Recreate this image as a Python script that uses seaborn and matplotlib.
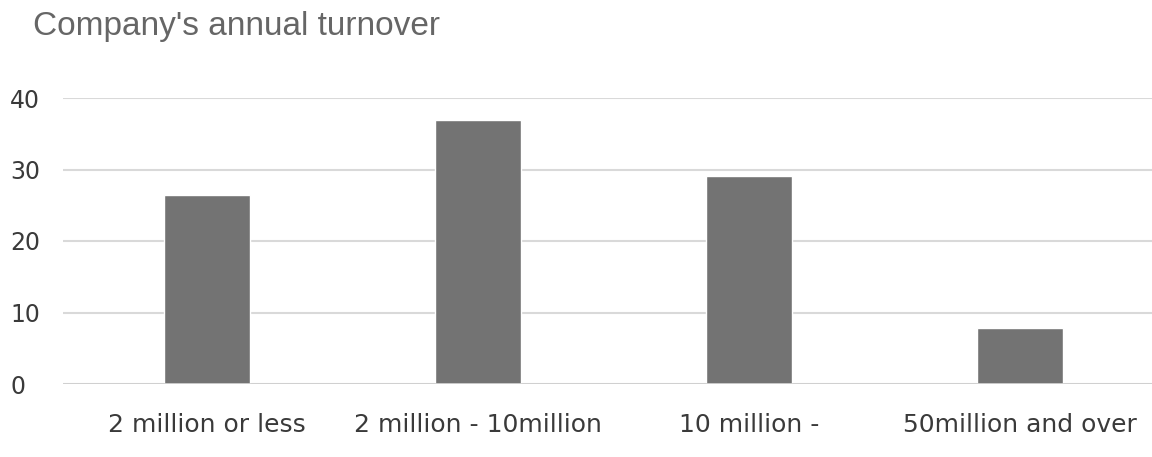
import matplotlib
matplotlib.use("Agg")
import matplotlib.pyplot as plt
import seaborn as sns
import pandas as pd

# Survey results: share of companies by annual turnover
categories = ["2 million or less", "2 million - 10million", "10 million -", "50million and over"]
values = [26.4, 36.9, 29.1, 7.8]
y_ticks = [0, 10, 20, 30, 40]

df = pd.DataFrame({"turnover": categories, "share": values})

sns.set_theme(style="white")
plt.rcParams["font.family"] = ["DejaVu Sans"]

fig = plt.figure(figsize=(11.52, 4.57), dpi=100)
ax = fig.add_axes([63 / 1152, 1 - 384 / 457, 1 - 63 / 1152, (384 - 98) / 457])

sns.barplot(data=df, x="turnover", y="share", color="#737373", width=0.32,
            saturation=1, ax=ax, zorder=3)

ax.set_xlim(-0.531, 3.487)
ax.set_ylim(0, 40)
ax.set_yticks(y_ticks)
ax.yaxis.grid(True, color="#d9d9d9", linewidth=1.5, zorder=0)
ax.axhline(0, color="#d0d0d0", linewidth=2, zorder=4)
for s in ax.spines.values():
    s.set_visible(False)

ax.set_xlabel("")
ax.set_ylabel("")
ax.tick_params(axis="x", length=0, pad=21, labelsize=18, labelcolor="#3a3a3a")
ax.tick_params(axis="y", length=0, pad=38, labelsize=17, labelcolor="#3a3a3a")
for lbl in ax.get_yticklabels():
    lbl.set_horizontalalignment("left")

fig.text(33 / 1152, 1 - 27 / 457, "Company's annual turnover", fontsize=24,
         color="#666666", ha="left", va="center", family="Liberation Sans")

fig.savefig("out.png", dpi=100, facecolor="white")
